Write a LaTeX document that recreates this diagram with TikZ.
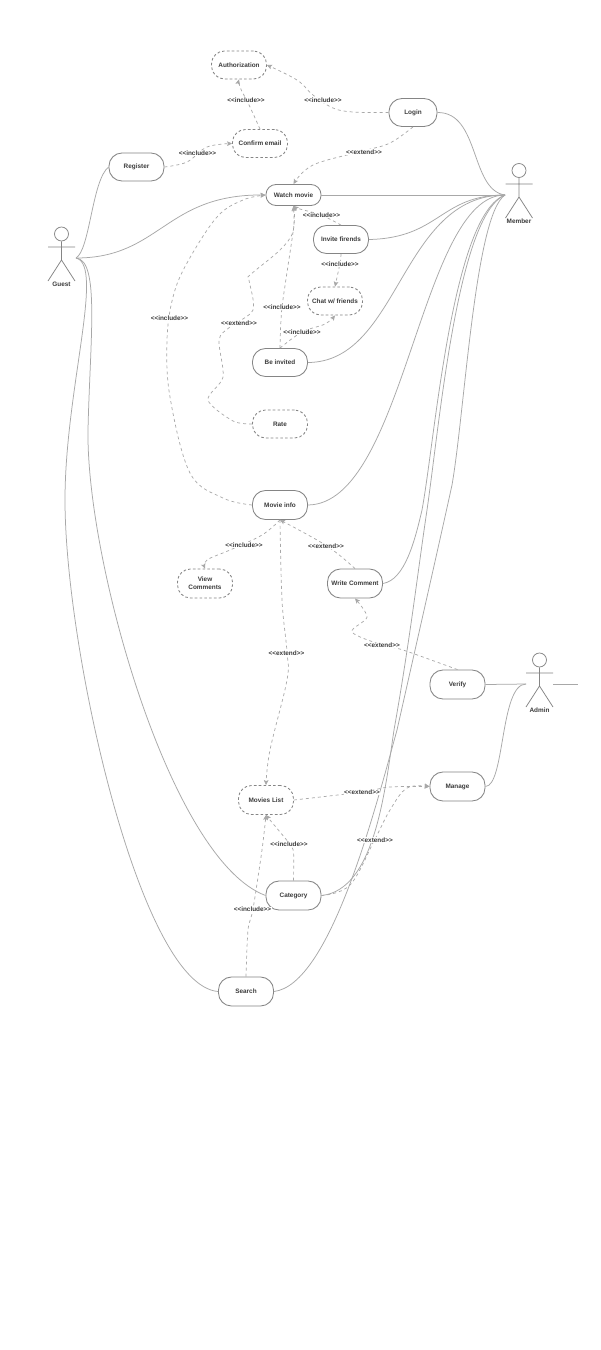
\documentclass[tikz,border=0pt]{standalone}
\usepackage{fontspec}
\setmainfont{Liberation Sans}
\usetikzlibrary{arrows.meta}
\definecolor{edgeg}{HTML}{A8A8A8}
\definecolor{boxg}{HTML}{858585}
\definecolor{txt}{HTML}{3C3C3C}
\tikzset{
  lbl/.style={font=\fontsize{6.4}{8}\selectfont\bfseries,text=txt,align=center,inner sep=0pt},
  solidcase/.style={draw=boxg,line width=0.85pt,rounded corners=13pt,minimum width=55pt,minimum height=28pt,inner sep=0pt,fill=white,lbl,yshift=-0.5pt},
  dashcase/.style={solidcase,dash pattern=on 2.6pt off 2.2pt},
  assoc/.style={draw=edgeg,line width=0.75pt},
  dep/.style={draw=edgeg,line width=0.7pt,dash pattern=on 3pt off 3pt,-{Stealth[length=5pt,width=4.6pt,inset=1pt]}},
  edgelabel/.style={lbl,fill=white,inner xsep=0.5pt,inner ysep=0.5pt,yshift=-0.6pt},
  stick/.style={draw=boxg,line width=0.75pt}
}
\begin{document}
\begin{tikzpicture}[x=1pt,y=-1pt]
\useasboundingbox[fill=white] (0,0) rectangle (601,1350);
% anchors
\coordinate (guestA) at (76,258);
\coordinate (memberA) at (505,195);
\coordinate (adminL) at (526,684);
\coordinate (adminR) at (553,684);
\coordinate (stubEnd) at (578,684);
% use cases
\node[dashcase] (auth) at (239,64.5) {Authorization};
\node[dashcase] (confirm) at (260,143) {Confirm email};
\node[solidcase] (register) at (136.5,166.5) {Register};
\node[solidcase,minimum height=21pt,rounded corners=10pt] (watch) at (293.5,194.5) {Watch movie};
\node[solidcase,minimum width=48pt] (login) at (413,112) {Login};
\node[solidcase] (invite) at (341,239) {Invite firends};
\node[dashcase] (chat) at (335,300.5) {Chat w/ friends};
\node[solidcase] (beinv) at (280,362) {Be invited};
\node[dashcase] (rate) at (280,423.5) {Rate};
\node[solidcase,minimum height=29pt] (movie) at (280,504.5) {Movie info};
\node[dashcase,minimum height=29pt] (view) at (205,583) {View\\Comments};
\node[solidcase,minimum height=29pt] (write) at (355,583) {Write Comment};
\node[solidcase,minimum height=29pt] (verify) at (457.5,684) {Verify};
\node[solidcase,minimum height=29pt] (manage) at (457.5,786) {Manage};
\node[dashcase,minimum height=29pt] (list) at (266,799.5) {Movies List};
\node[solidcase,minimum height=29pt] (category) at (293.5,895) {Category};
\node[solidcase,minimum height=29pt] (search) at (246,991) {Search};
% actors
\node[draw=boxg,line width=0.75pt,circle,minimum size=14pt,inner sep=0pt] (gh) at (61.5,234) {};
\draw[stick] (gh.south) -- (61.5,260) (48,247) -- (75,247) (48,281) -- (61.5,260) -- (75,281);
\node[lbl] (gl) at (61.5,284.5) {Guest};
\node[draw=boxg,line width=0.75pt,circle,minimum size=14pt,inner sep=0pt] (mh) at (519,170.5) {};
\draw[stick] (mh.south) -- (519,197) (505.5,184) -- (532.5,184) (505.5,218) -- (519,197) -- (532.5,218);
\node[lbl] (ml) at (519,221.5) {Member};
\node[draw=boxg,line width=0.75pt,circle,minimum size=14pt,inner sep=0pt] (ah) at (539.5,660) {};
\draw[stick] (ah.south) -- (539.5,686) (526,673) -- (553,673) (526,707) -- (539.5,686) -- (553,707);
\node[lbl] (al) at (539.5,710.5) {Admin};
% guest associations
\draw[assoc] (guestA) .. controls (90,250) and (92,180) .. (register.west);
\draw[assoc,-{Stealth[length=5pt,width=4.6pt,inset=1pt]}] (guestA) .. controls (160,258) and (165,194.5) .. (watch.west);
\draw[assoc] (guestA) .. controls (100,260) and (90,340) .. (88,430) .. controls (86,560) and (170,860) .. (category.west);
\draw[assoc] (guestA) .. controls (105,265) and (65,390) .. (65,500) .. controls (65,650) and (140,985) .. (search.west);
% member associations
\draw[assoc] (login.east) .. controls (480,112) and (470,190) .. (memberA);
\draw[assoc] (watch.east) -- (memberA);
\draw[assoc] (invite.east) .. controls (440,238) and (440,195) .. (memberA);
\draw[assoc] (beinv.east) .. controls (400,362) and (400,195) .. (memberA);
\draw[assoc] (movie.east) .. controls (405,504) and (420,195) .. (memberA);
\draw[assoc] (write.east) .. controls (405,580) and (415,540) .. (422,510) .. controls (435,440) and (452,215) .. (memberA);
\draw[assoc] (category.east) .. controls (375,890) and (385,790) .. (394,730) .. controls (410,640) and (418,570) .. (427,510) .. controls (440,420) and (458,215) .. (memberA);
\draw[assoc] (search.east) .. controls (330,985) and (375,810) .. (397,730) .. controls (415,650) and (440,540) .. (452,485) .. controls (465,410) and (475,215) .. (memberA);
% admin associations
\draw[assoc] (verify.east) -- (adminL);
\draw[assoc] (adminR) -- (stubEnd);
\draw[assoc] (manage.east) .. controls (505,786) and (500,684) .. (adminL);
% dependencies
\draw[dep] plot[smooth,tension=0.6] coordinates {(confirm.north) (250,107) (240,87) (auth.south)};
\draw[dep] plot[smooth,tension=0.6] coordinates {(login.west) (353,112) (333,108) (313,95) (297,80) (auth.east)};
\draw[dep] plot[smooth,tension=0.6] coordinates {(register.east) (187,162) (207,147) (confirm.west)};
\draw[dep] plot[smooth,tension=0.6] coordinates {(login.south) (390,143) (363,151) (313,165) (watch.north)};
\draw[dep] plot[smooth,tension=0.6] coordinates {(invite.north) (321,215) (300,209) (watch.south)};
\draw[dep] plot[smooth,tension=0.6] coordinates {(invite.south) (340,263) (chat.north)};
\draw[dep] plot[smooth,tension=0.6] coordinates {(beinv.north) (302,332) (325,324) (chat.south)};
\draw[dep] plot[smooth,tension=0.4] coordinates {(beinv.north) (282,307) (294,225) (watch.south)};
\draw[dep] plot[smooth,tension=0.5] coordinates {(rate.west) (233,421) (208,400) (223,377) (219,340) (230,327) (253,310) (249,280) (250,275) (280,250) (293,232) (watch.south)};
\draw[dep] plot[smooth,tension=0.6] coordinates {(movie.west) (223,498) (190,473) (170,397) (167,340) (173,297) (187,263) (217,217) (243,200) (watch.west)};
\draw[dep] plot[smooth,tension=0.6] coordinates {(movie.south) (262,535) (230,550) (207,560) (view.north)};
\draw[dep] plot[smooth,tension=0.6] coordinates {(write.north) (327,546) (movie.south)};
\draw[dep] plot[smooth,tension=0.6] coordinates {(movie.south) (282,600) (287,652) (287,680) (270,750) (list.north)};
\draw[dep] plot[smooth,tension=0.5] coordinates {(verify.north) (403,650) (382,645) (352,632) (367,617) (write.south)};
\draw[dep] plot[smooth,tension=0.6] coordinates {(list.east) (362,792) (390,787) (manage.west)};
\draw[dep] plot[smooth,tension=0.6] coordinates {(category.east) (350,885) (375,839) (390,810) (407,788) (manage.west)};
\draw[dep] plot[smooth,tension=0.4] coordinates {(category.north) (293.5,852) (289,843) (270,820) (list.south)};
\draw[dep] plot[smooth,tension=0.5] coordinates {(search.north) (248,930) (253,909) (262,850) (list.south)};
% labels
\node[edgelabel] (e1) at (246,100) {<{}<include>{}>};
\node[edgelabel] (e2) at (323,100) {<{}<include>{}>};
\node[edgelabel] (e3) at (197.5,153) {<{}<include>{}>};
\node[edgelabel] (e4) at (364,151.5) {<{}<extend>{}>};
\node[edgelabel] (e5) at (321.5,215) {<{}<include>{}>};
\node[edgelabel] (e6) at (340,263.5) {<{}<include>{}>};
\node[edgelabel] (e7) at (302,332) {<{}<include>{}>};
\node[edgelabel] (e8) at (282,307) {<{}<include>{}>};
\node[edgelabel] (e9) at (239,323) {<{}<extend>{}>};
\node[edgelabel] (e10) at (169.5,318) {<{}<include>{}>};
\node[edgelabel] (e11) at (244,544.5) {<{}<include>{}>};
\node[edgelabel] (e12) at (326,546) {<{}<extend>{}>};
\node[edgelabel] (e13) at (286.5,652.5) {<{}<extend>{}>};
\node[edgelabel] (e14) at (382,645) {<{}<extend>{}>};
\node[edgelabel] (e15) at (362,792) {<{}<extend>{}>};
\node[edgelabel] (e16) at (375,839.5) {<{}<extend>{}>};
\node[edgelabel] (e17) at (289,843.5) {<{}<include>{}>};
\node[edgelabel] (e18) at (252.5,909) {<{}<include>{}>};
\end{tikzpicture}
\end{document}
